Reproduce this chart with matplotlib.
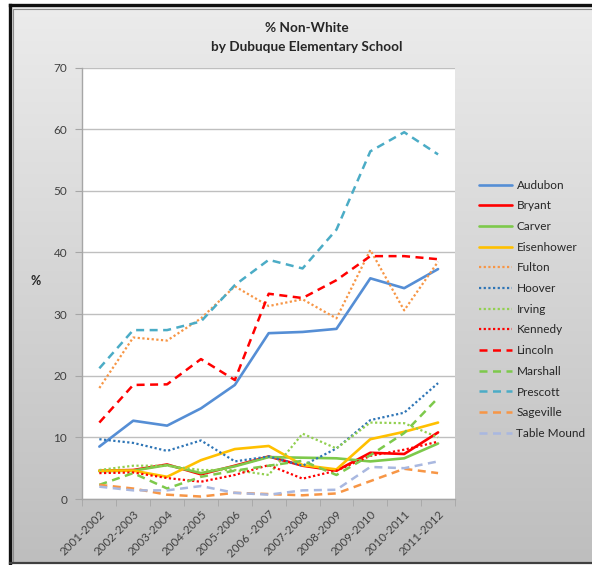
import numpy as np
import matplotlib
matplotlib.use("Agg")
import matplotlib.pyplot as plt
from matplotlib.colors import LinearSegmentedColormap
from matplotlib.patches import Rectangle

plt.rcParams["font.family"] = ["Lato", "DejaVu Sans"]

years = ["2001-2002", "2002-2003", "2003-2004", "2004-2005", "2005-2006",
         "2006 -2007", "2007-2008", "2008-2009", "2009-2010", "2010-2011",
         "2011-2012"]

audubon = [8.5, 12.7, 11.9, 14.7, 18.5, 26.9, 27.1, 27.6, 35.8, 34.2, 37.3]
bryant = [4.6, 4.7, 5.6, 4.0, 5.4, 6.9, 5.4, 4.6, 7.5, 7.3, 10.8]
carver = [4.5, 4.6, 5.5, 4.2, 5.3, 6.8, 6.7, 6.6, 6.1, 6.6, 9.0]
eisenhower = [4.6, 4.6, 3.6, 6.3, 8.1, 8.6, 5.5, 4.8, 9.7, 10.9, 12.4]
fulton = [18.0, 26.2, 25.7, 29.3, 34.5, 31.3, 32.4, 29.3, 40.4, 30.6, 38.5]
hoover = [9.7, 9.1, 7.8, 9.5, 6.1, 6.9, 5.4, 8.2, 12.8, 14.0, 18.8]
irving = [4.7, 5.4, 5.4, 4.7, 4.7, 3.9, 10.6, 8.2, 12.4, 12.3, 10.0]
kennedy = [4.2, 4.3, 3.4, 2.8, 3.9, 5.5, 3.3, 4.6, 7.0, 8.0, 9.3]
lincoln = [12.4, 18.5, 18.6, 22.7, 19.3, 33.3, 32.6, 35.5, 39.4, 39.4, 38.9]
marshall = [2.3, 4.2, 1.7, 3.6, 4.6, 5.4, 6.2, 3.9, 7.1, 10.7, 16.4]
prescott = [21.2, 27.4, 27.4, 28.8, 34.7, 38.8, 37.4, 43.7, 56.4, 59.5, 55.9]
sageville = [2.3, 1.7, 0.7, 0.4, 1.0, 0.8, 0.6, 0.9, 2.9, 4.9, 4.2]
table_mound = [2.0, 1.4, 1.4, 2.1, 1.0, 0.7, 1.4, 1.5, 5.2, 5.0, 6.1]

dot = (0, (1, 1.1))
dash = (0, (3.2, 2.2))
series = [
    ("Audubon", audubon, "#558ed5", "-"),
    ("Bryant", bryant, "#ff0000", "-"),
    ("Carver", carver, "#7dc94b", "-"),
    ("Eisenhower", eisenhower, "#ffc000", "-"),
    ("Fulton", fulton, "#f79646", dot),
    ("Hoover", hoover, "#2e75b6", dot),
    ("Irving", irving, "#92d050", dot),
    ("Kennedy", kennedy, "#ff0000", dot),
    ("Lincoln", lincoln, "#ff0000", dash),
    ("Marshall", marshall, "#7dc94b", dash),
    ("Prescott", prescott, "#4bacc6", dash),
    ("Sageville", sageville, "#f79646", dash),
    ("Table Mound", table_mound, "#a9b8e0", dash),
]

W, H = 592, 565
fig = plt.figure(figsize=(W / 100, H / 100), dpi=100)
fig.patch.set_facecolor("white")

# gray gradient panel with dark frame
bg = fig.add_axes([9.5 / W, 2.5 / H, 1.1, 1 - 7 / H], zorder=-2)
grad = np.linspace(0, 1, 256).reshape(-1, 1)
cmap = LinearSegmentedColormap.from_list("bg", ["#ececec", "#bebebe"])
bg.imshow(grad, aspect="auto", cmap=cmap, extent=[0, 1, 0, 1], origin="upper")
bg.set_xlim(0, 1)
bg.set_ylim(0, 1)
bg.set_xticks([])
bg.set_yticks([])
for side in bg.spines:
    bg.spines[side].set_linewidth(2.4)
    bg.spines[side].set_color("#111111")
bg.spines["bottom"].set_color("#404040")
bg.spines["bottom"].set_linewidth(1.6)
bg.add_patch(Rectangle((0.006, 0.0), 2, 0.9915, transform=bg.transAxes,
                       fill=False, edgecolor="#8c8c8c", linewidth=0.8))

ax = fig.add_axes([82.4 / W, 1 - 499 / H, (455 - 82.4) / W, (499 - 67.5) / H])
ax.set_facecolor("white")
x = np.arange(len(years))
for name, vals, color, ls in series:
    lw = 1.9 if ls == "-" else 1.8
    if ls == dot:
        lw = 1.6
    ax.plot(x, vals, color=color, linestyle=ls, linewidth=lw, label=name,
            solid_capstyle="round", dash_capstyle="butt")

ax.set_xlim(-0.5, len(years) - 0.5)
ax.set_ylim(0, 70)
ax.set_yticks(np.arange(0, 71, 10))
ax.yaxis.grid(True, color="#bfbfbf", linewidth=1.0)
ax.set_axisbelow(True)
ax.set_xticks(x)
ax.set_xticklabels(years, rotation=45, ha="right", rotation_mode="anchor")
ax.set_xticks(np.arange(-0.5, len(years)), minor=True)
ax.tick_params(axis="x", which="major", length=0, pad=7,
               labelsize=8.3, labelcolor="#404040")
ax.tick_params(axis="x", which="minor", length=5, color="#a6a6a6")
ax.tick_params(axis="y", length=5, color="#a6a6a6", labelsize=8.5,
               labelcolor="#404040", pad=6)
for side in ["top", "right"]:
    ax.spines[side].set_visible(False)
for side in ["left", "bottom"]:
    ax.spines[side].set_color("#a6a6a6")
    ax.spines[side].set_linewidth(1.0)

fig.text(36 / W, 1 - 281 / H, "%", fontsize=9, fontweight="bold",
         color="#262626", ha="center", va="center")
fig.text(307 / W, 1 - 28 / H, "% Non-White", fontsize=9.8, fontweight="bold",
         color="#262626", ha="center", va="center")
fig.text(307 / W, 1 - 47 / H, "by Dubuque Elementary School", fontsize=9.8,
         fontweight="bold", color="#262626", ha="center", va="center")

handles, labels = ax.get_legend_handles_labels()
leg = fig.legend(handles, labels, loc="upper left",
                 bbox_to_anchor=(474 / W, 1 - 175 / H), frameon=False,
                 fontsize=8.5, handlelength=2.8, handletextpad=0.4,
                 labelspacing=0.82, borderaxespad=0)
for t in leg.get_texts():
    t.set_color("#262626")

fig.savefig("out.png", dpi=100)
